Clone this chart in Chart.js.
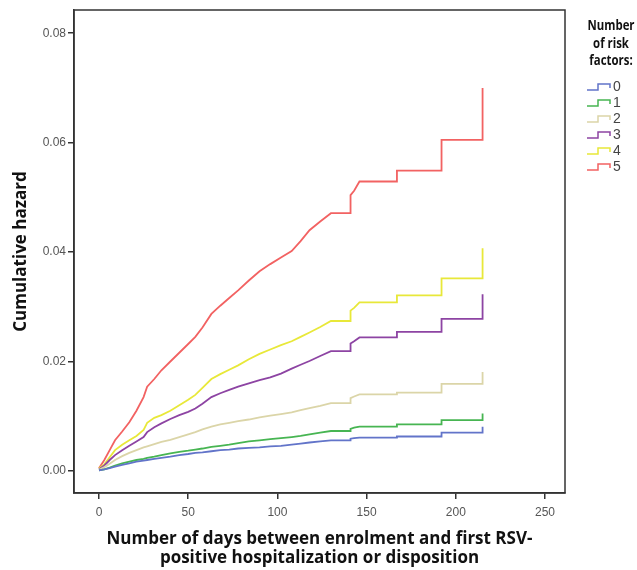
<!DOCTYPE html>
<html>
<head>
<meta charset="utf-8">
<script src="https://cdn.jsdelivr.net/npm/chart.js@4.4.1/dist/chart.umd.min.js"></script>
<style>
  html, body { margin: 0; padding: 0; background: #fff; }
  #wrap { width: 637px; height: 570px; }
</style>
</head>
<body>
<div id="wrap"><canvas id="hazardChart" width="637" height="570"></canvas></div>
<script>
// days since enrolment (repeated days mark the vertical steps of the curves)
const days = [0, 3, 6, 9, 13, 17, 21, 25, 27, 31, 35, 40, 45, 50, 54, 58, 63, 68, 73, 78,
  84, 90, 96, 102, 108, 113, 118, 124, 130, 141, 141, 143, 146, 167, 167, 192, 192, 215, 215];

// cumulative hazard by number of risk factors
const risk0 = [0.0001, 0.0003, 0.0005, 0.0008, 0.0011, 0.0014, 0.0017, 0.0019, 0.0020, 0.0022,
  0.0024, 0.0026, 0.0029, 0.0031, 0.0033, 0.0034, 0.0036, 0.0038, 0.0039, 0.0041,
  0.0042, 0.0043, 0.0045, 0.0046, 0.0048, 0.0050, 0.0052, 0.0054, 0.0056,
  0.0056, 0.0059, 0.0060, 0.0061, 0.0061, 0.0063, 0.0063, 0.0070, 0.0070, 0.0081];
const risk1 = [0.0001, 0.0003, 0.0006, 0.0010, 0.0014, 0.0017, 0.0020, 0.0022, 0.0024, 0.0026,
  0.0029, 0.0032, 0.0035, 0.0037, 0.0039, 0.0041, 0.0044, 0.0046, 0.0048, 0.0051,
  0.0054, 0.0056, 0.0058, 0.0060, 0.0062, 0.0064, 0.0067, 0.0070, 0.0073,
  0.0073, 0.0077, 0.0079, 0.0081, 0.0081, 0.0085, 0.0085, 0.0093, 0.0093, 0.0105];
const risk2 = [0.0002, 0.0007, 0.0013, 0.0020, 0.0027, 0.0033, 0.0038, 0.0043, 0.0045, 0.0049,
  0.0053, 0.0057, 0.0062, 0.0067, 0.0071, 0.0076, 0.0081, 0.0085, 0.0088, 0.0091,
  0.0094, 0.0098, 0.0101, 0.0104, 0.0107, 0.0111, 0.0115, 0.0119, 0.0124,
  0.0124, 0.0133, 0.0136, 0.0140, 0.0140, 0.0143, 0.0143, 0.0159, 0.0159, 0.0181];
const risk3 = [0.0003, 0.0010, 0.0020, 0.0029, 0.0038, 0.0046, 0.0054, 0.0062, 0.0071, 0.0080,
  0.0087, 0.0095, 0.0102, 0.0108, 0.0114, 0.0123, 0.0135, 0.0142, 0.0148, 0.0154,
  0.0160, 0.0166, 0.0171, 0.0178, 0.0187, 0.0194, 0.0201, 0.0210, 0.0219,
  0.0219, 0.0233, 0.0237, 0.0244, 0.0244, 0.0254, 0.0254, 0.0278, 0.0278, 0.0323];
const risk4 = [0.0005, 0.0012, 0.0025, 0.0038, 0.0048, 0.0056, 0.0064, 0.0075, 0.0088, 0.0097,
  0.0102, 0.0110, 0.0120, 0.0130, 0.0139, 0.0152, 0.0168, 0.0177, 0.0185, 0.0193,
  0.0204, 0.0214, 0.0222, 0.0230, 0.0237, 0.0245, 0.0253, 0.0263, 0.0274,
  0.0274, 0.0293, 0.0298, 0.0308, 0.0308, 0.0321, 0.0321, 0.0352, 0.0352, 0.0407];
const risk5 = [0.0005, 0.0020, 0.0038, 0.0056, 0.0072, 0.0089, 0.0110, 0.0135, 0.0154, 0.0168,
  0.0184, 0.0200, 0.0216, 0.0232, 0.0245, 0.0262, 0.0287, 0.0302, 0.0316, 0.0330,
  0.0348, 0.0365, 0.0378, 0.0390, 0.0402, 0.0420, 0.0440, 0.0456, 0.0471,
  0.0471, 0.0504, 0.0512, 0.0529, 0.0529, 0.0549, 0.0549, 0.0605, 0.0605, 0.0700];

const groupLabels = ['0', '1', '2', '3', '4', '5'];
const groupColors = ['#6274c9', '#47b552', '#dbd5a8', '#8d44a3', '#e8e839', '#f26262'];
const xTicks = [0, 50, 100, 150, 200, 250];
const yTicks = [0, 0.02, 0.04, 0.06, 0.08];
const keyTitle = ['Number', 'of risk', 'factors:'];

const series = [risk0, risk1, risk2, risk3, risk4, risk5];

// frame round the plot plus the step-symbol key on the right
const frameAndKey = {
  id: 'frameAndKey',
  afterDraw(chart) {
    const { ctx, chartArea: a } = chart;
    ctx.save();
    ctx.strokeStyle = '#333';
    ctx.lineWidth = 1.5;
    ctx.strokeRect(a.left, a.top, a.right - a.left, a.bottom - a.top);

    ctx.fillStyle = '#111';
    ctx.font = 'bold 15px "Open Sans"';
    ctx.textAlign = 'center';
    ctx.textBaseline = 'alphabetic';
    // the key title is set tight, like a condensed face
    keyTitle.forEach((t, i) => {
      const w = ctx.measureText(t).width;
      ctx.fillText(t, 611, 30 + i * 17.5, w * 0.76);
    });

    ctx.font = '14px "Liberation Sans"';
    ctx.textAlign = 'left';
    ctx.textBaseline = 'middle';
    groupLabels.forEach((lab, i) => {
      const y = 87 + i * 16;
      ctx.strokeStyle = groupColors[i];
      ctx.lineWidth = 1.5;
      ctx.beginPath();
      ctx.moveTo(587, y + 3);
      ctx.lineTo(598, y + 3);
      ctx.lineTo(598, y - 3);
      ctx.lineTo(610, y - 3);
      ctx.lineTo(610, y + 1);
      ctx.stroke();
      ctx.fillStyle = '#444';
      ctx.fillText(lab, 613, y);
    });
    ctx.restore();
  }
};

const ctx = document.getElementById('hazardChart').getContext('2d');
new Chart(ctx, {
  type: 'line',
  data: {
    datasets: series.map((vals, i) => ({
      label: groupLabels[i],
      data: vals.map((v, j) => ({ x: days[j], y: v })),
      borderColor: groupColors[i],
      borderWidth: 1.8,
      pointRadius: 0,
      fill: false,
      tension: 0
    }))
  },
  options: {
    responsive: false,
    animation: false,
    layout: { padding: { top: 10, right: 72, left: 0, bottom: 0 } },
    plugins: {
      legend: { display: false },
      tooltip: { enabled: false }
    },
    scales: {
      x: {
        type: 'linear',
        min: -14,
        max: 261.2,
        afterBuildTicks: s => { s.ticks = xTicks.map(v => ({ value: v })); },
        afterFit: s => { s.height = 77; },
        grid: { display: true, drawOnChartArea: false, drawTicks: true, tickLength: 6, color: '#333', lineWidth: 1.5 },
        border: { display: true, color: '#333', width: 1.5 },
        ticks: { color: '#555', font: { family: 'Liberation Sans', size: 12 }, padding: 6 },
        title: {
          display: true,
          text: ['Number of days between enrolment and first RSV-', 'positive hospitalization or disposition'],
          color: '#111',
          font: { family: 'Open Sans', size: 17, weight: 'bold', lineHeight: 1.08 },
          padding: { top: 0, bottom: 3 }
        }
      },
      y: {
        type: 'linear',
        min: -0.00403,
        max: 0.08424,
        afterBuildTicks: s => { s.ticks = yTicks.map(v => ({ value: v })); },
        afterFit: s => { s.width = 74; },
        grid: { display: true, drawOnChartArea: false, drawTicks: true, tickLength: 6, color: '#333', lineWidth: 1.5 },
        border: { display: true, color: '#333', width: 1.5 },
        ticks: {
          color: '#555',
          font: { family: 'Liberation Sans', size: 12 },
          padding: 2,
          callback: v => v.toFixed(2)
        },
        title: {
          display: true,
          text: 'Cumulative hazard',
          color: '#111',
          font: { family: 'Open Sans', size: 17, weight: 'bold' },
          padding: { top: 11, bottom: 0 }
        }
      }
    }
  },
  plugins: [frameAndKey]
});
</script>
</body>
</html>
